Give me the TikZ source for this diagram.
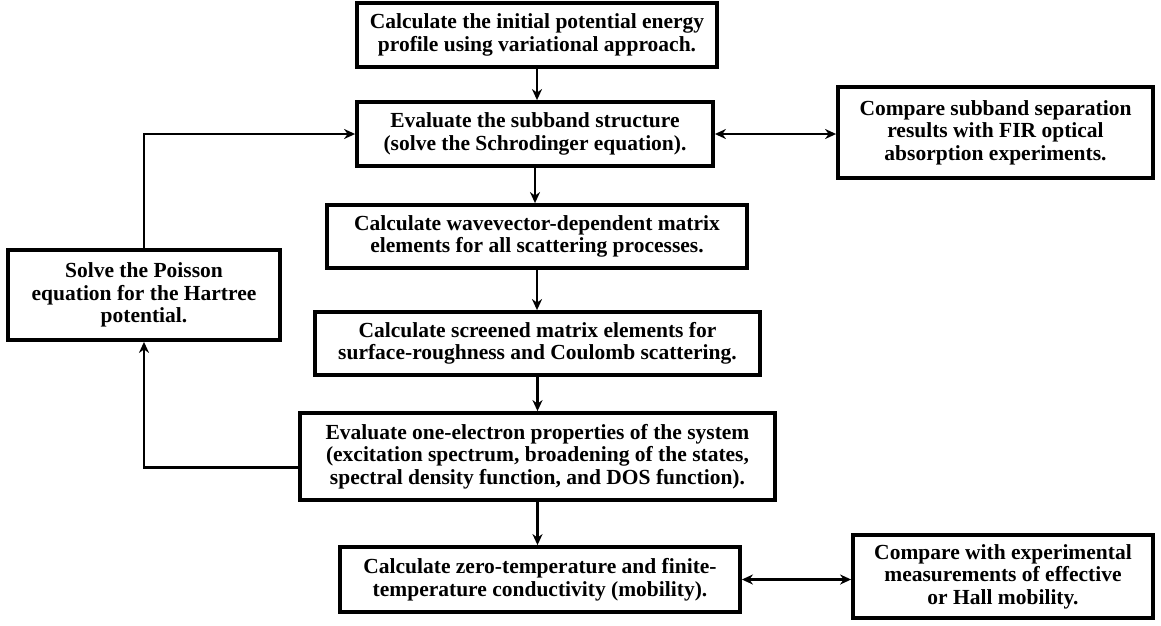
\documentclass[tikz,border=0pt]{standalone}
\usepackage{fontspec}
\setmainfont{Liberation Serif}
\usetikzlibrary{arrows.meta}
\begin{document}
\begin{tikzpicture}[x=1pt,y=-1pt,
  box/.style={draw=black, line width=3.8pt, fill=white, inner sep=0pt, align=center,
    font=\bfseries\fontsize{21.5}{22.5}\selectfont},
  tip/.tip={Stealth[length=11pt,width=10pt,inset=3.5pt]},
  conn/.style={draw=black, line width=2.3pt, -tip},
  dconn/.style={draw=black, line width=2.3pt, tip-tip}]
\useasboundingbox (0,0) rectangle (1161,625);
\node[box, minimum width=360pt, minimum height=64pt] (b1) at (537,35)
  {Calculate the initial potential energy\\profile using variational approach.};
\node[box, minimum width=356pt, minimum height=64pt] (b2) at (535,134)
  {Evaluate the subband structure\\(solve the Schrodinger equation).};
\node[box, minimum width=420pt, minimum height=63pt] (b3) at (537,236.5)
  {Calculate wavevector-dependent matrix\\elements for all scattering processes.};
\node[box, minimum width=445pt, minimum height=63pt] (b4) at (537.5,343.5)
  {Calculate screened matrix elements for\\surface-roughness and Coulomb scattering.};
\node[box, minimum width=475pt, minimum height=87pt] (b5) at (537.5,456.5)
  {Evaluate one-electron properties of the system\\(excitation spectrum, broadening of the states,\\spectral density function, and DOS function).};
\node[box, minimum width=400pt, minimum height=65pt] (b6) at (540,579.5)
  {Calculate zero-temperature and finite-\\temperature conductivity (mobility).};
\node[box, minimum width=315pt, minimum height=91pt] (c1) at (995.5,132.5)
  {Compare subband separation\\results with FIR optical\\absorption experiments.};
\node[box, minimum width=300pt, minimum height=83pt] (c2) at (1003,576.5)
  {Compare with experimental\\measurements of effective\\or Hall mobility.};
\node[box, minimum width=272pt, minimum height=90pt] (p) at (144,295)
  {Solve the Poisson\\equation for the Hartree\\potential.};
\draw[conn] (b1.south) -- (b1.south |- b2.north);
\draw[conn] (b2.south) -- (b2.south |- b3.north);
\draw[conn] (b3.south) -- (b3.south |- b4.north);
\draw[conn] (b4.south) -- (b4.south |- b5.north);
\draw[conn] (b5.south) -- (b5.south |- b6.north);
\draw[dconn] (b2.east) -- (b2.east -| c1.west);
\draw[dconn] (b6.east) -- (b6.east -| c2.west);
\draw[conn] ([yshift=-11pt]b5.west) -| (p.south);
\draw[conn] (p.north) |- (b2.west);
\end{tikzpicture}
\end{document}
